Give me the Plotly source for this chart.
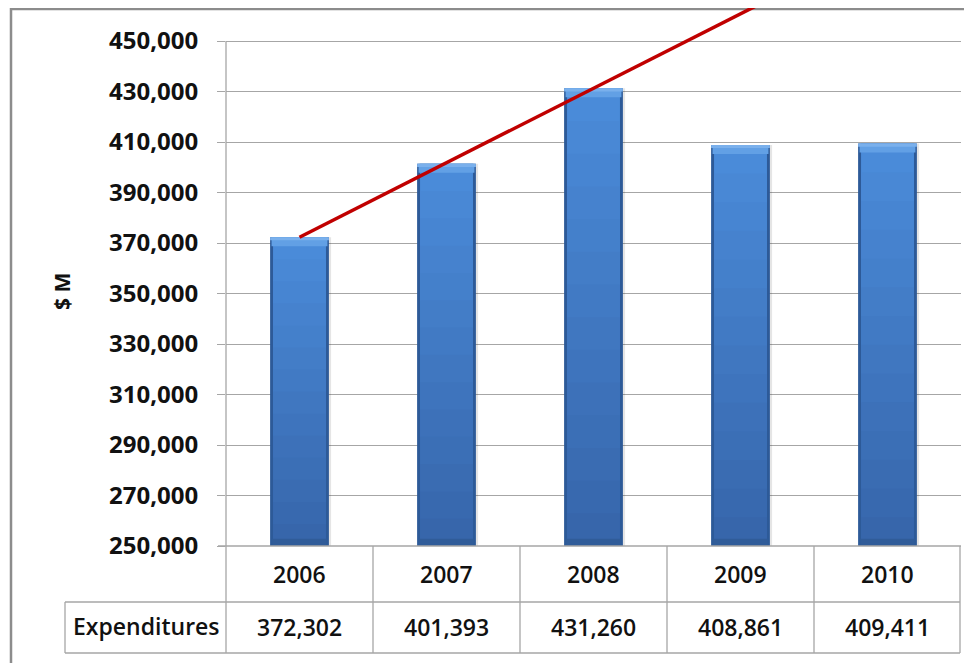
import plotly.graph_objects as go

# ---------------- data ----------------
years = [2006, 2007, 2008, 2009, 2010]
year_labels = ["2006", "2007", "2008", "2009", "2010"]
expenditures = [372302, 401393, 431260, 408861, 409411]
value_labels = ["372,302", "401,393", "431,260", "408,861", "409,411"]
row_label = "Expenditures"
y_ticks = [250000, 270000, 290000, 310000, 330000, 350000, 370000, 390000, 410000, 430000, 450000]
y_ticktext = ["250,000", "270,000", "290,000", "310,000", "330,000", "350,000",
              "370,000", "390,000", "410,000", "430,000", "450,000"]
trend_years = [2006, 2009.5]
trend_values = [372302, 475500]
axis_title = "$ M"

# ---------------- geometry (page pixels) ----------------
OFF = 8                      # browser default body margin
W, H = 972 - OFF, 663 - OFF  # figure size
L, R, T, B = 226, 961, OFF, 546          # plot area in page pixels
Y_MIN, Y_AT_41 = 250000, 450000
units_per_px = (Y_AT_41 - Y_MIN) / (B - 41)
Y_MAX = Y_MIN + (B - T) * units_per_px


def px_x(x):
    return (x - L) / (R - L)


def px_y(y):
    return (B - y) / (B - T)


FONT = "Open Sans"
GRID = "#a6a6a6"

fig = go.Figure()

base0 = Y_MIN
heights = [v - base0 for v in expenditures]

# soft shadow
fig.add_trace(go.Bar(x=years, y=heights, base=[base0] * 5, width=0.41, offset=-0.195,
                     marker=dict(color="rgba(0,0,0,0.10)", line=dict(width=0)),
                     hoverinfo="skip", showlegend=False))
# dark edge
fig.add_trace(go.Bar(x=years, y=heights, base=[base0] * 5, width=0.40,
                     marker=dict(color="#2d5a98", line=dict(width=0)),
                     hoverinfo="skip", showlegend=False))


def lerp(c1, c2, t):
    a = [int(c1[i:i + 2], 16) for i in (1, 3, 5)]
    b = [int(c2[i:i + 2], 16) for i in (1, 3, 5)]
    return "rgb(%d,%d,%d)" % tuple(round(a[i] + (b[i] - a[i]) * t) for i in range(3))


top_c, bot_c = "#4a8bd9", "#3766ab"
n = 14
for k in range(n):
    frac = k / n
    hk = [h * (1 - frac) for h in heights]
    fig.add_trace(go.Bar(x=years, y=hk, base=[base0] * 5, width=0.36,
                         marker=dict(color=lerp(top_c, bot_c, k / (n - 1)), line=dict(width=0)),
                         hoverinfo="skip", showlegend=False))

# top bevel
bevel = 9 * units_per_px
fig.add_trace(go.Bar(x=years, y=[bevel] * 5, base=[v - bevel for v in expenditures], width=0.38,
                     marker=dict(color="#62a0e5", line=dict(width=0)),
                     hoverinfo="skip", showlegend=False))
fig.add_trace(go.Bar(x=years, y=[bevel * 0.35] * 5, base=[v - bevel * 0.35 for v in expenditures], width=0.40,
                     marker=dict(color="#7ab0ec", line=dict(width=0)),
                     hoverinfo="skip", showlegend=False))
# bottom bevel
fig.add_trace(go.Bar(x=years, y=[bevel * 0.8] * 5, base=[base0] * 5, width=0.37,
                     marker=dict(color="#305c99", line=dict(width=0)),
                     hoverinfo="skip", showlegend=False))

# red trend line
fig.add_trace(go.Scatter(x=trend_years, y=trend_values, mode="lines",
                         line=dict(color="#c00000", width=3.5),
                         hoverinfo="skip", showlegend=False))

shapes = []
line_style = dict(color=GRID, width=1.3)
# outer border (top + left)
shapes.append(dict(type="path", xref="paper", yref="paper", layer="below",
                   path="M %f %f L %f %f L %f %f" % (px_x(11), px_y(680), px_x(11), px_y(9), px_x(990), px_y(9)),
                   line=dict(color="#8c8c8c", width=2.5)))
# y axis line down through table
shapes.append(dict(type="line", xref="paper", yref="paper", x0=0, x1=0, y0=px_y(41), y1=px_y(653), line=line_style))
# table top (250,000 grid line)
shapes.append(dict(type="line", xref="paper", yref="paper", x0=px_x(218), x1=1, y0=0, y1=0, line=line_style))
# table horizontal lines
for yy in (602, 653):
    shapes.append(dict(type="line", xref="paper", yref="paper", x0=px_x(65), x1=px_x(960),
                       y0=px_y(yy), y1=px_y(yy), line=line_style))
# left border of label cell
shapes.append(dict(type="line", xref="paper", yref="paper", x0=px_x(65), x1=px_x(65),
                   y0=px_y(602), y1=px_y(653), line=line_style))
# vertical dividers
for i in range(1, 6):
    xp = i / 5 if i < 5 else px_x(960)
    shapes.append(dict(type="line", xref="paper", yref="paper", x0=xp, x1=xp,
                       y0=0, y1=px_y(653), line=line_style))

annotations = []
tfont = dict(family=FONT, size=23, color="#111111", weight=600)
for yr, lab, val in zip(years, year_labels, value_labels):
    annotations.append(dict(x=yr, y=px_y(574), xref="x", yref="paper", text=lab, showarrow=False,
                            font=tfont, xanchor="center", yanchor="middle"))
    annotations.append(dict(x=yr, y=px_y(627), xref="x", yref="paper", text=val, showarrow=False,
                            font=tfont, xanchor="center", yanchor="middle"))
annotations.append(dict(x=px_x(146), y=px_y(626), xref="paper", yref="paper", text=row_label,
                        showarrow=False, font=tfont, xanchor="center", yanchor="middle"))
annotations.append(dict(x=px_x(62), y=px_y(292), xref="paper", yref="paper", text=axis_title,
                        showarrow=False, textangle=-90,
                        font=dict(family=FONT, size=21, color="#111111", weight=700),
                        xanchor="center", yanchor="middle"))

fig.update_layout(
    width=W, height=H,
    margin=dict(l=L - OFF, r=972 - R, t=T - OFF, b=663 - B, pad=0),
    paper_bgcolor="white", plot_bgcolor="rgba(0,0,0,0)",
    barmode="overlay", showlegend=False,
    shapes=shapes, annotations=annotations,
    xaxis=dict(range=[2005.5, 2010.5], showgrid=False, zeroline=False, showticklabels=False,
               showline=False, ticks="", fixedrange=True),
    yaxis=dict(range=[Y_MIN, Y_MAX], tickvals=y_ticks, ticktext=y_ticktext,
               showgrid=True, gridcolor=GRID, gridwidth=1.3, zeroline=False, showline=False,
               ticks="outside", ticklen=8, tickcolor=GRID, tickwidth=1.3,
               ticklabelstandoff=14,
               tickfont=dict(family=FONT, size=24, color="#111111", weight=700)),
)

fig.write_html("out.html")
